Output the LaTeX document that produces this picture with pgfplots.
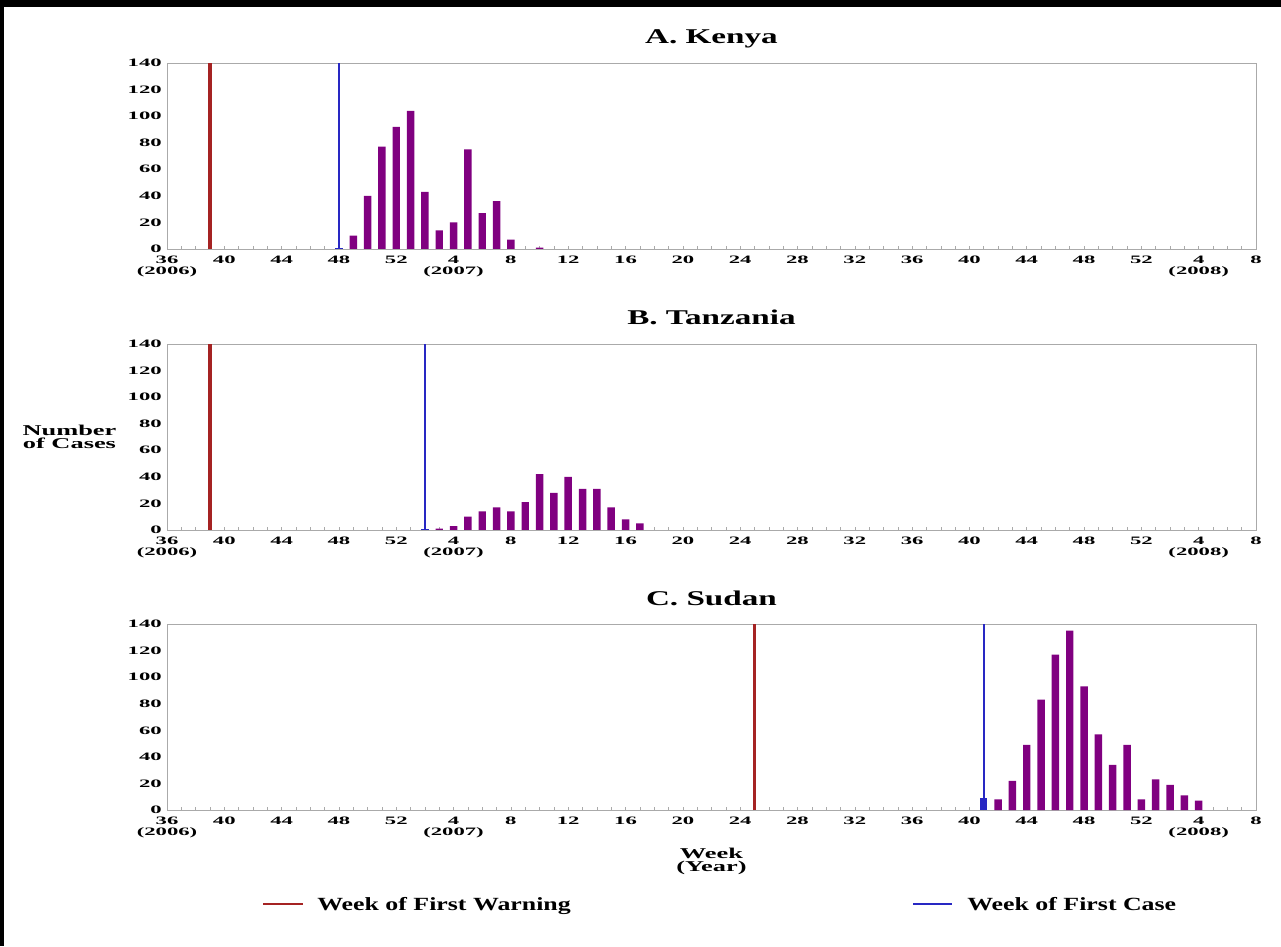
\documentclass[border=0pt]{standalone}
\usepackage{fontspec}
\setmainfont{Liberation Serif}
\newfontfamily\tickfont[FakeStretch=2.0]{Liberation Serif}
\newfontfamily\titlefont[FakeStretch=1.58]{Liberation Serif}
\newfontfamily\labfont[FakeStretch=1.76]{Liberation Serif}
\newfontfamily\legfont[FakeStretch=1.39]{Liberation Serif}
\usepackage{pgfplots}
\pgfplotsset{compat=1.18}

\definecolor{barpurple}{RGB}{128,0,128}
\definecolor{warnred}{RGB}{165,35,35}
\definecolor{caseblue}{RGB}{40,40,195}
\definecolor{framegray}{RGB}{170,170,170}

\pgfplotstableread{
x y
13 10
14 40
15 77
16 92
17 104
18 43
19 14
20 20
21 75
22 27
23 36
24 7
26 1
}\kenya
\pgfplotstableread{
x y
19 1
20 3
21 10
22 14
23 17
24 14
25 21
26 42
27 28
28 40
29 31
30 31
31 17
32 8
33 5
}\tanzania
\pgfplotstableread{
x y
58 8
59 22
60 49
61 83
62 117
63 135
64 93
65 57
66 34
67 49
68 8
69 23
70 19
71 11
72 7
}\sudan

\pgfplotsset{panel/.style={
  scale only axis, width=816.75pt, height=139.5pt,
  anchor=south west,
  xmin=0, xmax=76, ymin=0, ymax=140,
  xtick={0,4,...,76},
  xticklabels={{36\\(2006)},40,44,48,52,{4\\(2007)},8,12,16,20,24,28,32,36,40,44,48,52,{4\\(2008)},8},
  minor x tick num=3,
  ytick={0,20,...,140},
  axis line style={framegray, line width=0.6pt},
  xtick pos=left,
  tick align=inside,
  major tick length=2.5pt, minor tick length=2pt,
  x tick style={framegray, line width=0.4pt},
  ytick style={draw=none},
  xticklabel style={font=\tickfont\bfseries\fontsize{8.5}{7.9}\selectfont, align=center, inner sep=0pt, anchor=north, yshift=-5.25pt},
  yticklabel style={font=\tickfont\bfseries\fontsize{8.5}{8}\selectfont, inner sep=0pt, anchor=east, xshift=-3.75pt},
  /pgf/number format/assume math mode=true,
  title style={font=\titlefont\bfseries\fontsize{15.75}{18}\selectfont, at={(0.5,1)}, anchor=base, yshift=8.25pt, inner sep=0pt},
}}

\begin{document}
\begin{tikzpicture}
\useasboundingbox (0,0) rectangle (960.75pt,709.5pt);
\fill[white] (0,0) rectangle (960.75pt,709.5pt);
\fill[black] (0,704.25pt) rectangle (960.75pt,709.5pt);
\fill[black] (0,0) rectangle (3pt,709.5pt);

% A. Kenya
\begin{axis}[panel, at={(125.25pt,522.75pt)}, title={A. Kenya}]
\addplot[ybar, bar width=0.52, bar shift=0pt, fill=barpurple, draw=none] table[x=x,y=y] {\kenya};
\addplot[ybar, bar width=0.52, bar shift=0pt, fill=caseblue, draw=none] coordinates {(12,1)};
\addplot[warnred, line width=2.5pt] coordinates {(3,0) (3,140)};
\addplot[caseblue, line width=1.8pt] coordinates {(12,0) (12,140)};
\end{axis}

% B. Tanzania
\begin{axis}[panel, at={(125.25pt,312pt)}, title={B. Tanzania}]
\addplot[ybar, bar width=0.52, bar shift=0pt, fill=barpurple, draw=none] table[x=x,y=y] {\tanzania};
\addplot[ybar, bar width=0.52, bar shift=0pt, fill=caseblue, draw=none] coordinates {(18,1)};
\addplot[warnred, line width=2.5pt] coordinates {(3,0) (3,140)};
\addplot[caseblue, line width=1.8pt] coordinates {(18,0) (18,140)};
\end{axis}

% C. Sudan
\begin{axis}[panel, at={(125.25pt,102pt)}, title={C. Sudan}]
\addplot[ybar, bar width=0.52, bar shift=0pt, fill=barpurple, draw=none] table[x=x,y=y] {\sudan};
\addplot[ybar, bar width=0.52, bar shift=0pt, fill=caseblue, draw=none] coordinates {(57,9)};
\addplot[warnred, line width=2.5pt] coordinates {(41,0) (41,140)};
\addplot[caseblue, line width=1.8pt] coordinates {(57,0) (57,140)};
\end{axis}

% axis labels
\node[align=center, font=\labfont\bfseries\fontsize{11.25}{10}\selectfont, inner sep=0pt] at (52.1pt,381.75pt) {Number\\of Cases};
\node[align=center, font=\labfont\bfseries\fontsize{11.25}{9.75}\selectfont, inner sep=0pt] at (533.6pt,63.75pt) {Week\\(Year)};

% legend
\draw[warnred, line width=1.2pt] (197.25pt,31.5pt) -- (227.25pt,31.5pt);
\node[anchor=base west, inner sep=0pt, font=\legfont\bfseries\fontsize{13.95}{16}\selectfont] at (237.75pt,27pt) {Week of First Warning};
\draw[caseblue, line width=1.2pt] (684.75pt,31.5pt) -- (714pt,31.5pt);
\node[anchor=base west, inner sep=0pt, font=\legfont\bfseries\fontsize{13.95}{16}\selectfont] at (725.25pt,27pt) {Week of First Case};
\end{tikzpicture}
\end{document}
